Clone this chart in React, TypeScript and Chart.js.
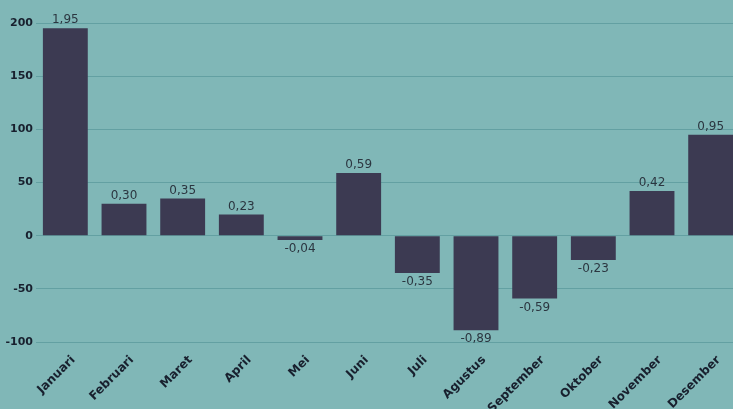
import React, { useEffect, useRef } from "react";
import { Chart, registerables } from "chart.js";

Chart.register(...registerables);

const months = [
  "Januari", "Februari", "Maret", "April", "Mei", "Juni",
  "Juli", "Agustus", "September", "Oktober", "November", "Desember",
];
const values = [195, 30, 35, 20, -4, 59, -35, -89, -59, -23, 42, 95];
const valueLabels = [
  "1,95", "0,30", "0,35", "0,23", "-0,04", "0,59",
  "-0,35", "-0,89", "-0,59", "-0,23", "0,42", "0,95",
];
const yTicks = [200, 150, 100, 50, 0, -50, -100];

const BG = "#80b7b7";
const BAR = "#3c3a52";
const GRID = "#63a0a2";
const TICK = "#18202e";

const valueLabelPlugin = {
  id: "valueLabels",
  afterDatasetsDraw(chart: any) {
    const ctx = chart.ctx;
    const meta = chart.getDatasetMeta(0);
    ctx.save();
    ctx.font = "12px 'DejaVu Sans'";
    ctx.fillStyle = "#2b3640";
    ctx.textAlign = "center";
    meta.data.forEach((bar: any, i: number) => {
      const v = values[i];
      if (v >= 0) {
        ctx.textBaseline = "bottom";
        ctx.fillText(valueLabels[i], bar.x, bar.y - 2);
      } else {
        ctx.textBaseline = "top";
        ctx.fillText(valueLabels[i], bar.x, bar.y + 3);
      }
    });
    ctx.restore();
  },
};

export default function App() {
  const ref = useRef<HTMLCanvasElement | null>(null);
  useEffect(() => {
    document.body.style.margin = "0";
    const chart = new Chart(ref.current!, {
      type: "bar",
      data: {
        labels: months,
        datasets: [
          {
            data: values,
            backgroundColor: BAR,
            borderWidth: 0,
            barPercentage: 0.9,
            categoryPercentage: 0.85,
          },
        ],
      },
      options: {
        animation: false,
        responsive: false,
        maintainAspectRatio: false,
        layout: { padding: { top: 23, right: 1, left: 0, bottom: 0 } },
        plugins: {
          legend: { display: false },
          tooltip: { enabled: false },
        },
        scales: {
          x: {
            grid: { display: false, drawTicks: false },
            border: { display: false },
            ticks: {
              color: TICK,
              font: { family: "'DejaVu Sans'", size: 12, weight: "bold" },
              minRotation: 45,
              maxRotation: 45,
              autoSkip: false,
              padding: 11,
              labelOffset: 8,
            },
            afterFit(scale: any) {
              scale.height = 67;
            },
          },
          y: {
            min: -100,
            max: 200,
            afterBuildTicks(scale: any) {
              scale.ticks = yTicks.map((v) => ({ value: v }));
            },
            grid: { color: GRID, lineWidth: 1, drawTicks: false },
            border: { display: false },
            ticks: {
              color: TICK,
              font: { family: "'DejaVu Sans'", size: 11, weight: "bold" },
              padding: 3,
            },
            afterFit(scale: any) {
              scale.width = 36;
            },
          },
        },
      },
      plugins: [valueLabelPlugin],
    });
    return () => chart.destroy();
  }, []);
  return (
    <div
      style={{
        position: "fixed",
        left: 0,
        top: 0,
        width: 733,
        height: 409,
        overflow: "hidden",
        background: BG,
      }}
    >
      <canvas ref={ref} width={741} height={409} style={{ display: "block" }} />
    </div>
  );
}
